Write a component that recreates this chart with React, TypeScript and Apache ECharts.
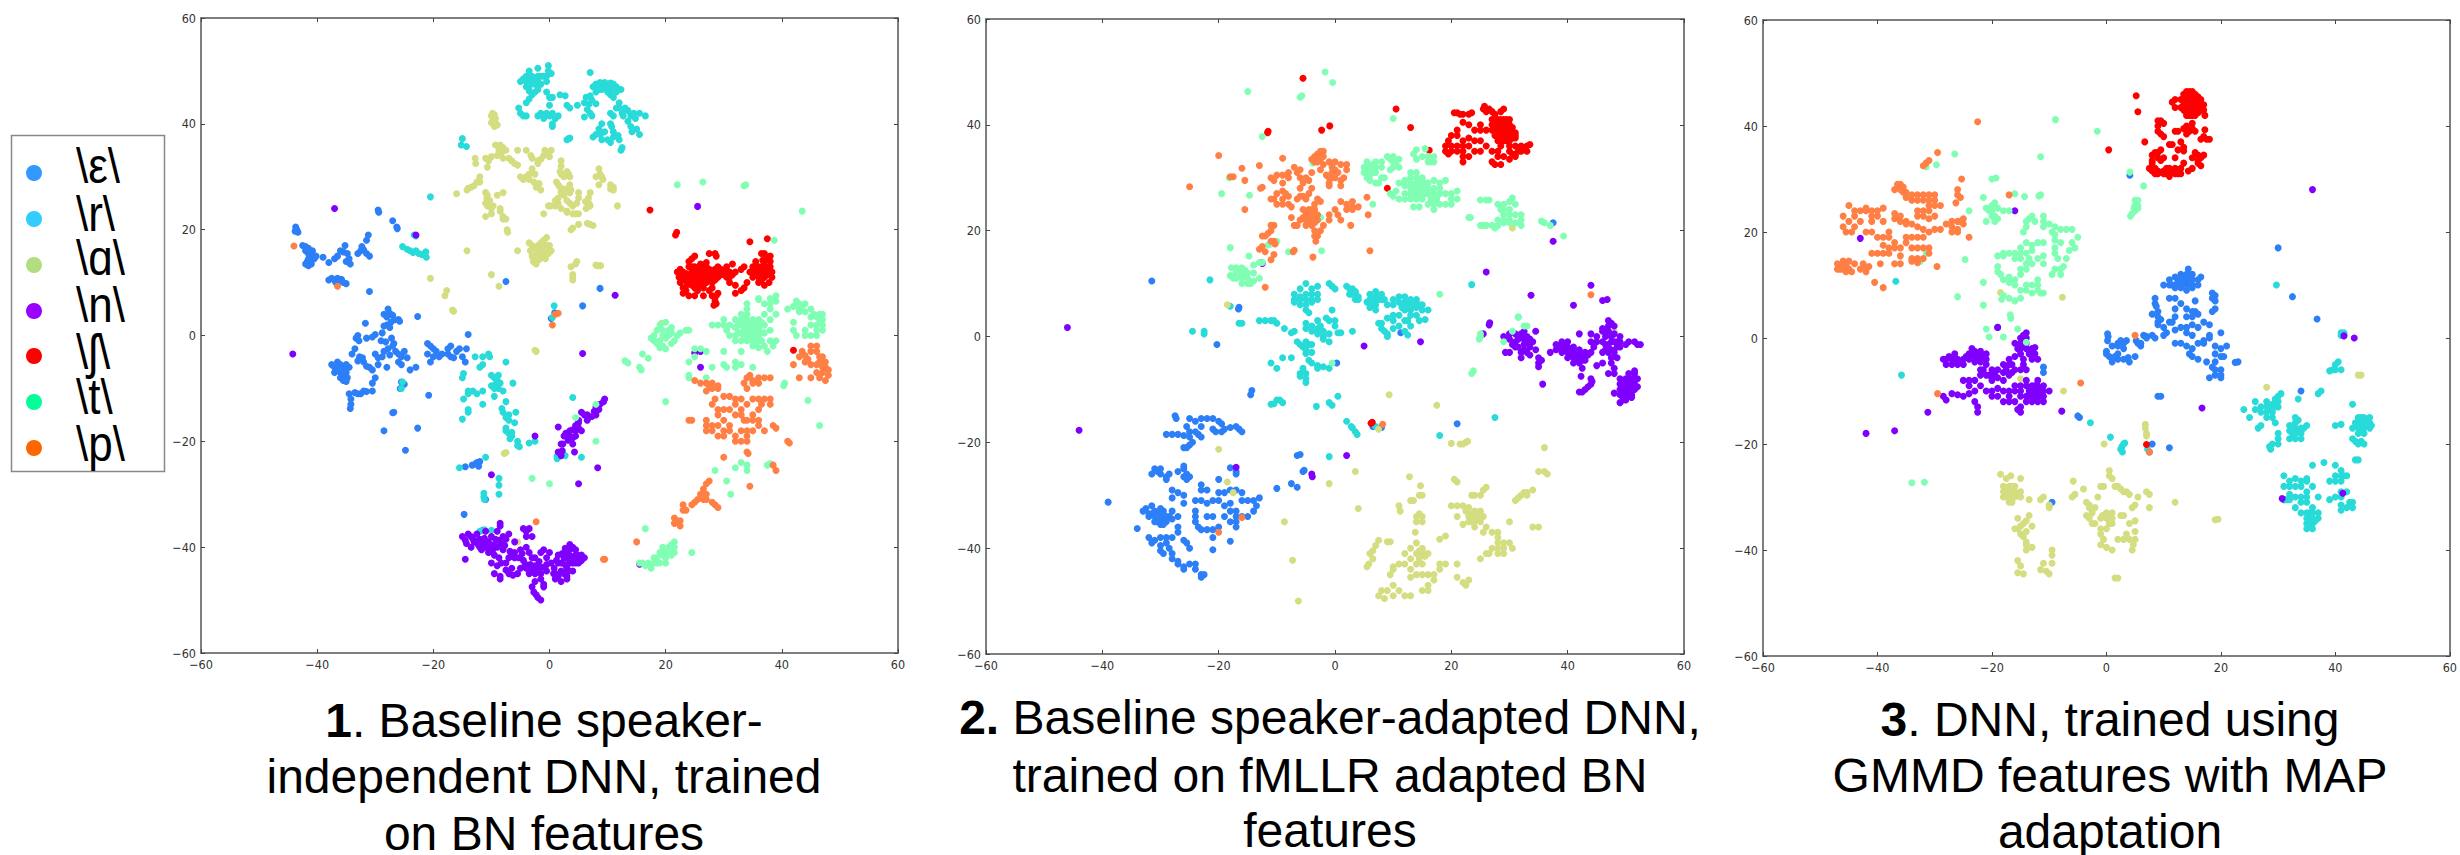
import React, { useEffect, useRef } from "react";
import * as echarts from "echarts";

const classNames = ["\\ε\\", "\\r\\", "\\ɑ\\", "\\n\\", "\\ʃ\\", "\\t\\", "\\p\\"];
const legendColors = ["#3399ff", "#33ccff", "#b2dd80", "#9900ff", "#ff0000", "#00ff99", "#ff6600"];
const markColors = ["#2c7ff7", "#28dbd9", "#d4dd80", "#7f00ff", "#ff0000", "#80ffb4", "#ff7f45"];
const tickValues = [-60, -40, -20, 0, 20, 40, 60];

const captions = [
  ["{b|1}. Baseline speaker-", "independent DNN, trained", "on BN features"],
  ["{b|2.} Baseline speaker-adapted DNN,", "trained on fMLLR adapted BN", "features"],
  ["{b|3}. DNN, trained using", "GMMD features with MAP", "adaptation"],
];

const p1Blue = [[-43.7,20.5],[-43.5,20],[-43.3,19.5],[-43.8,19.7],[-42.5,17],[-42,16.8],[-41.5,16.5],[-42,16],[-41.5,15.5],[-41.2,15],[-41.5,14.5],[-41.7,14],[-42,13.5],[-41.5,13.2],[-41,13.5],[-41,14.2],[-40.5,14.5],[-40.2,15],[-40.8,16],[-39,14.8],[-38,13.8],[-37,14.5],[-36.5,15],[-35.5,15.8],[-36,16],[-35.2,17],[-34.8,15.5],[-34.5,14.5],[-35,14],[-34.3,13.5],[-33,15.5],[-32.5,16],[-32,16.2],[-31.5,15.5],[-31,15],[-31.5,18],[-31.2,19],[-32.3,16.8],[-29.5,23.7],[-29.4,23.3],[-27,21.7],[-26.3,20.5],[-26.2,20.2],[-38,10.5],[-37.5,10.8],[-37,10.5],[-36.5,10.8],[-36.8,10],[-36,10.3],[-35.5,10],[-35,9.8],[-35.8,10.6],[-31,8.3],[-7.5,10.2],[8.7,8.9],[5.7,5.6],[0.3,3.2],[0.9,4.3],[-28.5,4],[-28,3.5],[-27.8,5],[-27.5,4.2],[-27,3.8],[-26.7,3],[-27.3,2.5],[-28,2],[-28.5,1.8],[-26,3],[-25.8,2.7],[-27.5,1.5],[-22.7,3.6],[-31.7,2.3],[-33,0],[-33.3,-0.5],[-32.8,-1],[-31.5,-0.5],[-30.5,-0.3],[-30,0.2],[-28.8,0.5],[-29,-1],[-28.2,-1.2],[-27.2,-0.5],[-26.8,-1.5],[-27,-2],[-27.8,-2.5],[-28.5,-3],[-27.5,-3.7],[-28.8,-4],[-29.5,-4.2],[-30,-3.5],[-26.5,-3],[-26,-3.5],[-25.5,-4],[-25,-3],[-26,-5],[-25.5,-5.5],[-24.5,-4.2],[-24,-6.5],[-23,-6],[-33.5,-2.5],[-34,-3.5],[-32.7,-4],[-32.2,-4.2],[-32,-5],[-33,-4.8],[-31.5,-5.8],[-31,-6],[-30.5,-6.5],[-29.5,-5.5],[-28,-6],[-37.5,-5.5],[-37,-6],[-36.5,-5],[-36,-5.5],[-35.5,-6],[-35,-5.5],[-36.5,-6.5],[-36,-7],[-35.5,-7.5],[-35,-7],[-36,-8],[-35.5,-8.5],[-34.8,-8],[-35.2,-6.5],[-37,-7],[-34.5,-6],[-35,-8.7],[-30.5,-9],[-32,-10.5],[-33.5,-10.8],[-33,-11],[-32.5,-11],[-31.5,-10.6],[-30.5,-10.5],[-34.5,-11],[-34.2,-12],[-34.2,-13],[-34.3,-13.8],[-30,-8],[-25.5,-8.8],[-25,-9.2],[-25.7,-10],[-26.8,-14.5],[-27,-14.6],[-20.8,-11.3],[-28.5,-18],[-22.7,-17.5],[-24.8,-21.7],[-21,-1.5],[-20.5,-2],[-20,-2.5],[-19.5,-3],[-21,-3.5],[-20,-4],[-19,-4],[-18.5,-3.5],[-17.5,-3.5],[-17,-4],[-17.5,-2.5],[-17,-2],[-16,-3],[-16.5,-4.2],[-15.5,-2.5],[-20.5,-5],[-15,-4],[-14.5,-5],[-14.3,-2.5],[-14,0.2],[-14.5,-24.8],[-13.3,-24.5],[-12.7,-24.3],[-12.2,-24.7],[-12,-23.8],[-12.5,-24],[-14.7,-33.8],[-11,-31],[-11.5,-36.8]];
const p1Cyan = [[-0.2,51],[-0.2,50],[-2,50.5],[-3.5,50],[-4,49],[-4.5,48.5],[-5,48],[-4,48],[-3.5,47],[-3,48],[-3,49],[-2.5,47.5],[-2,48],[-1.5,49],[-1,49],[-0.5,49],[0.3,49.5],[-2,46.5],[-3.5,46.2],[-0.5,48],[-4,47],[-3,45.5],[-2.5,46],[-0.5,46],[0,45],[-3.5,44.7],[-4,44],[0.5,45],[1.8,45.5],[2.7,45.3],[-5.3,43],[-5,42],[-4.5,41.5],[-4,41.5],[-2,41.5],[-1.5,42],[-1,41],[-0.5,42],[0,41.5],[0,43.5],[0.5,42],[1,41],[1.5,41.5],[0.5,40],[0.5,39.5],[3,43.5],[3.5,43],[4.8,43.5],[3,37],[3.3,37.2],[3.5,37.3],[7,49.7],[7.5,47],[8,47.5],[8.7,47.8],[9.5,47.8],[10,47.5],[10.5,47.7],[11,47.5],[11.5,47],[12,46.5],[8,46],[9,46.5],[10,46],[10.5,45.5],[11,45],[11.5,46],[12.3,46.5],[6,44],[6.3,45],[7,45.3],[7.3,44.5],[6.8,43.7],[6.5,42.7],[7,42],[6,41.3],[7.3,41.5],[8,43.8],[11.5,43],[12,44],[12,43],[10.5,42],[11,41.5],[12.5,42],[12.7,41.5],[13.5,42.5],[14,41.5],[14.5,42],[14.8,41],[15.5,42],[16.5,41.5],[13,43],[13.5,40.5],[14,39.5],[15,39],[14.2,38.5],[15.5,38],[10.5,40],[10.7,39.5],[11,38.5],[9,40],[8.5,39],[8.8,38],[8,38],[7.5,37.5],[9,37],[10,37],[10.5,36.5],[11,37.5],[9.5,38.5],[12,37],[12.5,35.5],[12.3,35],[11.8,37.8],[-15.2,36],[-15,37.2],[-14.3,35.7],[-20.5,26.2],[-25.3,16.8],[-24.5,16.3],[-24,16],[-23.5,15.7],[-23,16],[-22.5,15.5],[-22,15.3],[-21.5,15.5],[-21.2,14.8],[-21.3,15.8],[-23.3,19],[-23,18.8],[0.8,5.6],[0.5,3.4],[-12.8,-4],[-11.5,-4],[-10.5,-3.5],[-10.3,-4],[-11.5,-5.5],[-12,-6],[-7.5,-5],[-14.8,-7.2],[-15,-8],[-10,-7.5],[-9.5,-8],[-9,-8.5],[-9.3,-9.2],[-8.8,-10],[-9.5,-10],[-10,-9.5],[-8.5,-9],[-6.3,-9],[-8.8,-7.5],[-8,-10.5],[-14,-10.5],[-13.2,-10.5],[-12.5,-11],[-11.5,-10.5],[-14,-11],[-9.5,-11.5],[-7.5,-12.5],[-14.8,-12],[-11.5,-13],[-14,-14],[-14,-14.5],[-15,-15.8],[-8.2,-13.8],[-8,-14.5],[-7.5,-15.5],[-7,-15],[-7,-16],[-5.8,-14.5],[-6,-16.5],[-7.5,-18],[-7.5,-17.5],[-7,-18.5],[-6.5,-18.3],[-6.5,-19],[-6.8,-19.5],[-5.5,-20],[-5.5,-20.8],[-5.2,-21],[-3.5,-20.3],[-2.5,-20],[4,-11.7],[1.3,-23.3],[1.3,-22.8],[2.7,-22.7],[5.5,-23],[-25.3,-8.8],[-25.5,-10],[-8.7,-27],[-8.7,-28.3],[-8.7,-30],[-11.3,-29.8],[-11.3,-30.5],[-11.2,-31],[-10,-36.8],[-11.2,-36.7],[-11,-23],[-15.5,-25],[-12,-37],[-2.5,48.5],[-3.5,48.5],[-1.5,47.5],[-2,49],[9.5,47],[10.5,46.5],[9,47.3],[8.5,46.5]];
const p1Khaki = [[-10,41.5],[-9.8,42],[-9.5,41.7],[-9.7,41],[-9.5,40.5],[-10,40.2],[-9.3,40],[-9.5,39.5],[-9,39.8],[-9.3,41],[-9.3,36],[-8.5,36],[-8,35.5],[-8.7,35],[-8.3,34.5],[-9,34],[-10,33.8],[-7.5,35],[-8,33.5],[-7,33.5],[-6.5,33],[-6,32.5],[-5.5,32.2],[-10.5,33],[-11,33.5],[-12.8,33.5],[-12.7,32.5],[-10.7,31.8],[-5.5,35],[-4,35],[-3.2,34],[-3,33.5],[-1.5,33.3],[-2,33],[-0.8,35],[-0.2,34.5],[0,33.8],[-1,34],[0.3,35],[-2,32.5],[2,33],[2,32],[1.8,31],[2,30.5],[2.5,30],[3,31],[3.3,30.5],[3.5,30],[8.5,31.5],[8.7,30.5],[8,30],[9,30],[9.2,29.5],[-5,30],[-4.5,29.5],[-4,30],[-3.5,30.5],[-3,31.5],[-3.5,29.5],[-2.5,30.5],[-2.7,29],[-2.3,28],[-1.8,28.7],[-1.5,27.5],[1.2,29],[1.5,28.5],[1.8,28],[2.3,27.5],[2.7,27.7],[3.5,28.5],[2,27],[2.5,26.5],[3.5,27],[3.7,27.5],[3,25.5],[3.5,25],[4,24.5],[5,27],[5,26],[4.7,25],[6.7,26],[6.8,25],[6.3,24],[6.2,25.3],[7,24.5],[7,27],[8.5,28.5],[10.5,28.5],[10.5,27.7],[11,28],[11,27.5],[1.5,26],[1,24.5],[1.5,25],[1,25.5],[0.2,24.5],[-0.2,24.5],[2,24],[3,23.5],[3,23.3],[4,23],[4.5,23],[5,23],[-1,23],[11.7,24.5],[5,21],[6.5,21.2],[7,21],[7.5,20.8],[3.7,20],[4,20.3],[-14,27.8],[-13.5,28],[-13,28.3],[-12.5,29],[-12,30],[-12,29],[-14.2,27.5],[-11,27],[-10.7,26.5],[-10.8,26],[-10.3,25.5],[-11,25],[-10.7,24.5],[-10,24],[-10,23],[-9.7,24.5],[-9,26.5],[-8,27],[-8.5,24],[-8.5,23.5],[-8,22.5],[-8,22],[-7.5,22],[-7.3,20],[-7.2,19.5],[-11,22.5],[-16,26.8],[-3.5,17.5],[-3,17],[-2.5,16.5],[-3.3,16],[-2,17],[-1.5,17.5],[-1,18],[-0.5,18.5],[-0.5,17],[-0.8,16],[-1.5,16],[-2,15.5],[-1,15],[-1.5,14.7],[0,17],[0.3,16],[-0.2,15.5],[-0.7,14.5],[-3,15],[-2.8,14],[-2.5,13.7],[-2.3,13.5],[-5.5,16],[3.7,13],[4.5,13.5],[4.7,14],[4,11.5],[4,11],[4,10.5],[8,13.3],[8.3,13.2],[8.8,13.2],[-14.2,16],[-10,11.5],[-8.7,9.3],[-20.5,10.8],[-18,7.5],[-17.7,8.5],[-16.7,4.8],[-16.5,4.6],[-2.5,-2.8],[-2.3,-3],[-7.8,-22.3],[-7.5,-22.1],[-5.5,-39],[19.3,2.3],[-2.2,16],[-1.2,16.7],[-2.5,15],[-1.8,14.3],[-0.8,17],[-0.3,16]];
const p1Purple = [[-37,24],[-23,19],[-44.2,-3.5],[11.3,7.6],[25.5,24.4],[25,-3.3],[26,-6],[26,-3],[5.7,-3.4],[9.5,-12],[9.3,-12.5],[8.7,-13],[8,-13.5],[8.5,-14],[7.7,-14.3],[8,-15],[7.3,-15.3],[6.5,-15],[6,-15],[6.5,-16],[5.5,-14.5],[5,-16],[5,-16.5],[4.5,-17],[5,-17.5],[5.5,-18],[4.5,-18],[4,-17.8],[3.5,-18],[3.5,-19],[2.8,-18.5],[2.5,-19],[3.2,-19.8],[4,-19.3],[4.5,-19],[2.3,-20.5],[2,-20.5],[4,-20.5],[1.5,-17.3],[1.5,-22],[2,-22.7],[2.2,-21.8],[4.3,-22],[-2.5,-19],[8.3,-25],[5,-28],[-10,-26.3],[-14.5,-42.3],[15.5,-43.2],[-15,-38],[-14.5,-38.7],[-14,-37.5],[-13.5,-38],[-13,-39],[-13.5,-40],[-12.5,-37.5],[-12,-38.5],[-11.5,-39],[-12,-40],[-11,-40],[-10.5,-39],[-10,-38],[-11,-37],[-9.5,-39.5],[-9,-37],[-8.5,-35.5],[-8.5,-36],[-8,-38],[-7.5,-38.5],[-7,-37.5],[-9,-40],[-8,-40.5],[-9.5,-41.5],[-10.5,-41],[-10,-43],[-9,-43.5],[-9.5,-45],[-8.5,-45.5],[-8.5,-46],[-7,-45],[-6.5,-44],[-7.5,-43],[-7,-42],[-6,-42],[-6,-41],[-5,-40.5],[-4,-40],[-3.5,-41],[-3,-42],[-4.5,-42.5],[-5,-44],[-4,-44],[-3.5,-45],[-5.5,-45],[-4,-38],[-4,-37],[-3.5,-36.5],[-6,-39],[-3,-38],[-4.5,-36.5],[-2.5,-42],[-2.5,-43.5],[-2,-44],[-2.5,-45],[-1.5,-46],[-1.5,-45],[-2.5,-46.5],[-1,-47],[-3,-47.5],[-2.7,-48.5],[-2.3,-49],[-2,-49.5],[-1.5,-50],[-1,-47.5],[-0.5,-44.5],[-1.5,-41],[-1,-40.5],[-0.5,-42],[0,-41],[0.3,-43],[0.7,-45],[1,-46],[1.5,-45.5],[2,-46.5],[2,-44.5],[2.5,-45],[3,-44],[3,-46],[1.5,-41.5],[1.5,-43],[2,-43],[2.5,-42],[3,-42],[3,-41],[3.5,-40.5],[3.5,-39.5],[4,-40],[4.5,-40.5],[4.5,-41.5],[3.5,-43],[4,-43],[4.5,-43],[5,-42],[5,-43],[5.5,-41.5],[5.5,-42.5],[6,-42],[4,-44.5],[3,-45.5],[-14.3,-39.3],[-13.2,-38.4],[-12.7,-38.9],[-12.3,-39.5],[-11.7,-40.5],[-11.2,-38.3],[-10.4,-40],[-9.8,-40.6],[-9.3,-38.5],[-8.7,-38.7],[-8.3,-39.3],[-7.7,-39.7],[-6.8,-40.8],[-6.5,-41.7],[-8.7,-42],[-8.3,-43],[-7.5,-44.3],[-6.3,-45.3],[-4.7,-41.2],[-5.3,-42],[-4.2,-43.2],[-3.3,-43.3],[-3,-44.4],[-1.8,-42.7],[-1.3,-43.8],[-0.5,-43.3],[0.8,-44],[1.2,-42.5],[2.2,-41.2],[2.7,-43.3],[3.3,-44.5],[3.7,-41.7],[4.2,-42.2],[4.8,-41.5],[5.2,-42.7],[2.7,-40.2],[1,-45]];
const p1Red = [[17.3,23.7],[21.7,19],[21.9,19.5],[34.5,17.7],[37.5,18.3],[42,-2.8],[22,12],[22.3,11],[22.5,10],[23,9],[23,10.5],[23,12],[23.5,8.5],[24,10],[24,11],[24,13],[24,14],[24.5,14.5],[25,9],[25,10],[25,11],[25,12],[25,13],[25.5,8.5],[26,9.5],[26,10.5],[26,11.5],[26,12.5],[26,13.5],[27,10],[27,11],[27,12],[27,13],[27,13.8],[26.5,9],[28,10],[28,11],[28,12],[28,9],[28,7.5],[27.5,15.5],[28.5,15.5],[28.7,15],[29,11],[29,12],[29,13],[30,12],[30,11.5],[30.5,13],[31,12],[31,11],[31,10],[32,9.5],[32,12],[32,8],[31.5,13.5],[33,12.5],[33,8.5],[33.5,9],[33.5,13],[34,10],[34.5,12],[35,13],[35,11],[35.5,14],[36,13],[36,12],[36,11],[36,10],[36.5,11.5],[36.5,13],[36.5,15.5],[37,15.5],[37,14],[37,11],[37,9.5],[37.5,12.5],[37.5,11.5],[37.8,10],[38,13],[38,14],[38,15],[38.3,12],[38.3,11],[28.5,6.5],[28.7,6],[28.3,5.7],[29,8],[28.7,7.5],[23,8],[24,7.5],[25,7.5],[26.5,7.5],[27.5,8.5],[25,15],[22.5,12.5],[22.7,11.3],[23.3,11],[23.5,11.7],[23.7,9.6],[24.5,9.5],[24.5,10.5],[24.5,12],[24.6,13],[25.5,9.6],[25.5,10.8],[25.5,11.7],[25.5,12.7],[26.5,10],[26.5,11],[26.5,12],[26.5,13],[27.5,10.5],[27.5,11.5],[27.5,12.5],[28.5,10.5],[28.5,11.5],[28.5,12.5],[29.5,11.5],[29.5,12.5],[30.5,11],[31.5,11.5],[36.5,10.5],[37,12],[37.3,13],[36.7,14.2],[37.5,14.5],[36.2,11],[35.5,12]];
const p1Mint = [[22,28.5],[26.4,29],[33.5,28.3],[33.8,28.5],[43.5,23.5],[38.7,18],[19,2],[20,2.5],[20.5,1],[19.5,1],[18.5,1],[18,0],[17.5,-0.5],[18,-1],[18.5,-1.5],[19,-1],[19.5,0],[20,-0.5],[20.5,0],[21,0.5],[21,1.5],[21.5,-1],[22,0],[22.5,0.5],[23.5,1],[24,1],[19.5,-2],[20,-2.5],[19,-2.3],[21,-1.5],[16,-3.5],[17,-4.3],[13,-4.8],[13.5,-5.2],[15.5,-6],[15.8,-6.5],[28,2],[29,2],[30,2],[30.5,1],[30,3],[31,2],[31,0],[32,3],[32,1.5],[32,0],[33,4],[33,3],[33,2],[33,0.5],[33,-1],[34,5],[34,4],[34,3],[34,2],[34,1],[34,0],[34,-1],[35,3],[35,2],[35,1],[35,0],[35,-1],[35,-2],[36,3],[36,1.5],[36,0],[36,-1],[36,-2.3],[37,6],[37,4],[37,2],[37,0.5],[37,-2],[37.5,-3],[38,7],[38,6],[38,5],[38,3],[38,1],[38,-1],[38.5,-2],[39,7.5],[39,6.5],[39,4],[39,-1],[36,7],[36,6.8],[34,6],[32,-1],[33,-3],[30,-3],[30,-5.5],[30.5,-6],[32,-6],[33,-5.5],[35,-6],[32,-5],[41,5],[42,5.5],[42.5,6.5],[43,6],[43.5,5.5],[44,6],[43,5],[43,4.5],[44,4.5],[45,3.5],[45,5],[45.5,4],[46,3.5],[46.5,4],[46.5,3],[47,3],[47,2],[47,1],[46,2],[46,1],[45,2],[44,1],[44,0],[45,0],[46,0],[42,2.5],[42,1],[42.5,0],[47,4],[24,-5],[25,-4],[26,-2.5],[25,-2.5],[27,-3],[28,-6],[27,-8],[24,-7.5],[24,-8],[20,-12.5],[40.5,-9],[40.3,-9.5],[44.5,-12.3],[46.5,-17],[32,-25],[33,-24],[34,-24.5],[34,-25.5],[28.5,-25.5],[30.5,-27.5],[31.2,-30],[37.5,-24.5],[38,-24.2],[-3,-27],[0,-28],[8,-13],[4.5,-15.5],[8,-20],[16.5,-36.5],[15.5,-43],[16,-43],[16.5,-43.5],[17,-43],[17.5,-44],[18,-43],[18,-42],[18.5,-42],[18.5,-43],[19,-41],[19,-43],[19.5,-41.5],[19.5,-40],[20,-42],[20,-41],[20,-43],[20.5,-40],[21,-39.5],[21,-40.5],[21,-41.5],[21.5,-39],[21.5,-40],[21.5,-41],[24.5,-41],[33.5,1.5],[33.5,2.5],[33.5,3.5],[34.5,1.5],[34.5,2.5],[34.5,0.5],[34.5,-0.5],[35.5,0.5],[35.5,1.5],[35.5,2.5],[35.5,-0.5],[35.5,-1.5],[36.5,0.5],[36.5,-1],[36.5,2.5],[33.5,-0.3],[32.5,0.5],[32.5,2]];
const p1Orange = [[-44,16.9],[-36.5,9.3],[1,4],[1.5,4.2],[0.5,2],[-2.3,-35.2],[9.3,-42.3],[9.5,-42.3],[15,-39],[42,-5.5],[43,-4],[43.5,-3],[44,-3.8],[44.5,-4.5],[45,-3],[45,-2],[46,-2],[46,-3],[46.5,-4],[46.5,-5],[47,-4],[47.5,-5],[46,-5.5],[45,-5.5],[44,-5],[47,-6],[47.5,-6],[48,-6.5],[48,-7.5],[47,-7],[46,-7],[47.5,-8.5],[46.5,-8],[43,-8],[45,-8],[25,-8.5],[26,-9],[27,-9],[27.5,-9.5],[28,-9],[28,-10],[29,-9.5],[29,-10],[27,-10.5],[34,-8],[34.5,-7.5],[35,-8.5],[35,-9],[36,-8],[36,-9],[37,-8],[38,-8],[33.5,-9],[34,-10],[28.5,-12],[28,-13],[30,-11.5],[31,-11.5],[32,-12],[32,-13],[33,-12],[35,-12],[36,-12],[37,-12],[38,-12],[38,-13],[34,-13],[36.5,-13],[36,-14],[33,-14],[29,-14],[29,-15],[30,-14],[31,-14],[32,-15],[33,-15],[30,-16],[29,-17],[28,-17],[27,-16],[27,-17],[27,-18],[28,-18],[29,-19],[30,-18],[31,-18],[30,-19],[32,-19],[32,-20],[33,-18],[33,-20],[34,-19],[34,-18],[34,-20],[33.5,-16],[34,-16],[35,-15],[35,-16],[36,-16],[36,-17],[35,-18],[31,-17],[37,-18],[38.5,-17],[39,-17.5],[24,-16],[24.5,-16],[41,-20],[41.3,-20.3],[34,-22],[34.2,-22.3],[30,-23],[38.5,-24.5],[39,-25.5],[34.5,-28.5],[27.5,-27.5],[27,-28],[26.5,-29],[26,-30],[26.5,-31],[25.5,-31],[25,-31.5],[27,-30],[27,-31],[28,-31.5],[28.5,-32],[29,-32.5],[24.5,-32],[23.5,-33],[23,-32],[23,-33],[21.5,-34.5],[22,-35],[22.5,-35],[21.5,-35.5],[22.5,-36]];

const p2Blue = [[-31.5,10.5],[-16.5,5.5],[-16.6,5.2],[-20.3,-1.5],[-14.3,-10.2],[-14.5,-11],[0.3,-5],[11.3,0.7],[37.5,21.5],[21,-16.5],[8,-17.2],[6.5,-17],[-39,-31.3],[-6.5,-22.5],[-6,-22.3],[-5.5,-25.5],[-5.3,-25.3],[-10,-28.7],[-7.5,-27.8],[-6.5,-28.5],[-18,-38.7],[-21,-40.3],[-27.5,-15],[-27.3,-15.5],[-25,-15.5],[-24,-16],[-23,-15.5],[-22,-15.5],[-21,-15.5],[-20,-16],[-19.5,-16.5],[-19,-17.5],[-18,-17.2],[-17,-17],[-16.5,-17.5],[-16,-18],[-25.5,-17],[-25,-18],[-23,-17],[-21,-17.5],[-20.5,-18],[-19.5,-18],[-29,-18.5],[-28,-18.5],[-27,-18.5],[-26,-18.7],[-25,-19],[-24,-18],[-23.5,-18.5],[-23,-19],[-24.5,-20],[-25,-20.5],[-25.5,-21],[-26,-21],[-31,-25],[-30.5,-25.5],[-30,-25],[-30,-26],[-31.5,-26],[-29,-26.5],[-29,-27],[-28.5,-26],[-27,-25.5],[-26,-25],[-26,-24.5],[-25.5,-26],[-26,-26.5],[-25,-26.5],[-25.5,-27],[-20,-27],[-18,-24.8],[-17,-25.5],[-17,-26],[-23,-28],[-22,-29],[-23,-29],[-18,-29],[-17,-29],[-16,-29.5],[-16,-31],[-15,-31],[-14,-31],[-13,-30.5],[-13.5,-32],[-14,-33],[-28,-29],[-27,-29.5],[-28,-30.5],[-26,-30],[-26,-31.5],[-24,-31],[-23,-31],[-22,-31.5],[-21,-31],[-20,-31],[-20,-29.5],[-19,-29.5],[-19,-32],[-18,-31.5],[-18,-33],[-17,-33],[-17,-34],[-19,-34],[-18,-35],[-16,-34],[-17,-35],[-17,-36],[-15,-34],[-33,-33],[-32.5,-32.5],[-32,-33.5],[-32,-34],[-31.5,-32],[-31,-33],[-31,-34],[-31,-35],[-30.5,-33.5],[-30,-32.5],[-30,-34],[-30,-35],[-30,-35.5],[-29.5,-33],[-29,-34],[-29,-35],[-28.5,-34],[-28,-34.5],[-28,-33],[-27,-34],[-32,-38],[-31,-38.5],[-30,-38],[-31.5,-39],[-30,-39.5],[-30,-40.5],[-29.5,-41],[-29,-39],[-28.5,-40],[-29,-38],[-34,-36.3],[-28,-38],[-27,-37],[-27,-36],[-26,-38.5],[-25.5,-39],[-25,-40],[-24,-34],[-24,-35],[-23.5,-36],[-23,-36.5],[-22,-36.5],[-21,-36.5],[-24,-33],[-22,-34],[-21,-34],[-20,-36],[-21,-38],[-28,-41],[-28,-42],[-27,-43],[-27,-42.5],[-26,-43.5],[-26,-44],[-25,-43],[-24,-43],[-24,-44],[-23,-45],[-23,-45.5],[-22.5,-45],[-30.5,-34],[-29.5,-34.5],[-30.5,-35],[-31.5,-33.5],[-29.5,-35.5]];
const p2Cyan = [[-21.5,10.7],[-18,5.7],[-24.5,1],[-22.5,1],[-22.5,0.5],[-16.5,2.5],[-16,2.5],[23.5,9.8],[27.5,-15.3],[18,-18.7],[31.5,3.7],[-7,8],[-6,9],[-5,10],[-4,9],[-3,9.5],[-3,8],[-4,8],[-5,8],[-6,7.5],[-7,7],[-6,7],[-5,7],[-4,7],[-3,7],[-5,6],[-4,6.5],[-5,5],[-6,6],[-7,6.5],[-4.5,4.5],[-1,10],[-0.5,9.5],[0,9],[2,9.5],[2.5,9],[3,9],[3.5,8.5],[3,8],[3.5,8],[4,7.5],[4,7],[3.5,7],[2.5,8],[6,8],[7,8.5],[7,7.5],[6,7],[5.5,6.5],[6.5,6],[7,7],[7.5,7],[8,8],[8,7],[8.5,7],[7,6],[6,5.5],[7,5],[9,6],[10,7],[10,6],[11,7.5],[11,6.5],[11.5,5.5],[12,7.5],[12,6.5],[12,5],[12.5,6],[13,7],[13,5],[13.5,6],[14,7],[14,5.5],[14.5,6],[15,6],[15,5],[14,4],[16,5],[15.5,3.2],[14.5,3],[13,4],[12.5,3],[12,1],[13,2],[12,3],[11,4],[10,4],[9,3.5],[8,2.5],[7.5,2.5],[8,1.5],[8.5,1],[9,0.5],[9,0],[10,3],[10,1.5],[11,2],[12.5,0.3],[-13,3],[-12,3],[-11,3],[-10.5,3],[-10,2.5],[-8.7,1.5],[-7.5,0.7],[-7,1],[-5,2.5],[-5,1.5],[-4,2],[-4,1],[-3,3],[-3,1.5],[-3,0.5],[-2.5,2],[-2,1],[-1.5,3.5],[-2,0],[-1,0.5],[-1,3],[-0.5,5],[0,3],[0,2],[0.5,0.7],[1,0.7],[3,1],[-2,-0.5],[-1,-1],[-6.5,-1],[-6,-1.5],[-5,-1],[-5.5,-2],[-5,-2.5],[-4.5,-1.5],[-4,-1.5],[-4,-3],[-5,-3.2],[-4.5,-4.5],[-4,-5],[-3,-5.5],[-3,-6],[-5.5,-6],[-6,-7],[-5,-7],[-6,-7.5],[-5,-8],[-5,-8.7],[-1,-6],[-2,-5.7],[-11,-5],[-10,-6],[-9,-4],[-7.5,-4],[-11,-12.8],[-10.5,-12.7],[-10,-12],[-9.5,-12],[-9,-12.5],[-3.2,-13.2],[-1,-12.5],[-0.5,-13],[0.5,-11.3],[2,-16],[2.8,-17],[3,-17.3],[3.5,-18],[3.8,-18.5],[7,-17],[-1,-22.7]];
const p2Khaki = [[-18.5,6],[-17.5,-29.5],[-18.5,-27.5],[-20,-21.3],[3.5,-25.5],[-1,-27.8],[4,-32.5],[-8.7,-35],[-7.3,-42.3],[-6.3,-50],[9.3,-11],[17.5,-13],[7.5,-17.5],[30.5,20.5],[48,1],[20,-20.2],[21.5,-20.3],[22,-20.3],[22.5,-20],[22.8,-19.8],[36,-21],[36,-25.5],[36.5,-26],[35,-25.5],[12.8,-26.5],[14.7,-28.2],[15,-30],[14.5,-30],[13.5,-31],[13,-31],[11,-32],[11.2,-33],[14.5,-33.5],[15,-34],[15,-35],[14,-34],[14,-35],[13.8,-37],[20.5,-27],[21,-27.5],[23.5,-30],[24,-30],[25,-30],[25.5,-29],[26,-28.5],[31,-31],[31.5,-30.5],[32,-30],[33,-29.5],[34,-29],[32.5,-29.5],[33,-30],[23,-34],[24,-33],[24,-34],[24,-35],[23,-35],[22.5,-33],[22,-35.5],[21,-34],[21,-32],[20,-32],[22,-32],[23,-32.3],[25,-33],[25.5,-34],[25,-35],[24,-36],[25.5,-37],[26,-36],[27,-37],[28,-37],[35,-36],[34,-36],[30,-35],[28,-38],[28,-39],[28,-40],[29,-40],[29,-39],[30,-39],[29,-41],[28,-41],[27,-40],[26.5,-41],[26,-41],[25,-42],[30.5,-40],[19,-37.7],[18,-38.3],[7.5,-38.5],[7,-39.5],[6.5,-40.5],[9,-38.8],[9.5,-38.8],[6,-41],[6.5,-42],[5.8,-43],[5.5,-43.5],[13,-40],[14,-39],[15,-40],[14,-41],[14.5,-42],[15,-41],[16,-41],[14,-43],[13,-42],[12,-41],[12,-43],[11,-43],[10,-43.5],[10,-44],[9.5,-45],[13,-44],[15,-43],[14,-45],[13,-45.5],[15,-45],[16,-45],[17,-45],[18,-44],[18,-43],[17,-46],[16,-47],[15,-48],[16,-48],[10,-47],[9,-48],[8,-48],[7.5,-49],[8.5,-49.5],[10,-49],[11,-48],[12,-49],[13,-49],[19,-43],[21,-43],[21,-45.5],[22,-46.5],[23,-46],[22.5,-47],[14.5,-41.5],[15,-40.5],[14.5,-40.5],[15.5,-41.5],[24,-34.5],[23.5,-33.5],[24.5,-34],[23.5,-35]];
const p2Purple = [[-46,1.7],[-44,-17.7],[-12.7,14],[-12.5,13.8],[26,12.2],[44,9.7],[46,6.8],[46.8,7],[41,5.9],[33.7,7.8],[37.5,18],[5,-1.8],[14.7,-1],[2,-22.5],[-17,-24.7],[-3.9,-26.5],[-4,-26],[35.7,-9],[25.5,0.5],[26.5,2.2],[26.6,2.6],[29,0],[30,0.5],[30,-0.5],[31,0.5],[31,-1],[30.5,-1.5],[29.3,-3],[30,-3],[31,-2],[31.5,-2],[32,0.5],[32.5,1],[33,0],[33,-1],[33.5,-2],[33,-3],[33.5,-3.5],[32,-3],[32,-4],[34,-1],[34.5,-2.5],[34.5,1],[35,-4],[35,-5],[35,-5.7],[35.5,-4.5],[37,-3],[38,-1.5],[38,-2.5],[39,-1],[39,-2],[39,-3],[40,-1],[40,-2],[40,-3],[40,-4],[41,-2],[41,-3],[41,-4],[41,-5],[42,-2.5],[42,-4],[42,-5],[42.5,-6],[42,0.5],[43,-3],[43,-4.5],[44,-1],[44,-3],[44,0.5],[44.5,-2],[45,-1],[45,0],[45,-5.5],[46,-1],[46,-3],[46,1],[46,1.5],[46.5,0],[47,1],[47,2],[47,3],[47,-1.5],[47,-3],[47.5,2.5],[47.5,-4],[48,2],[48,0.5],[48,-1],[48,-3],[48.5,-4],[49,0],[49,-1],[49,-2],[50,-1.5],[50.5,-1],[51.5,-1],[52,-1.5],[52.5,-1.5],[47.5,-5],[48,-6],[47,-7],[48,-7],[46,-5],[42,-10.5],[42.5,-10.5],[43,-10],[43.5,-9.5],[44,-9],[44,-8],[44.2,-8.5],[42.3,-7.5],[48,-10.7],[49,-8],[49,-9],[49,-10],[49,-11],[49.5,-12],[50,-8],[50,-9],[50,-10],[50,-11],[51,-8],[51,-9],[51,-10],[51,-11],[52,-8],[52,-9.5],[51.5,-6.5],[51.5,-7],[49,-12.5],[50,-12],[51,-11.5],[50.5,-7],[38.5,-2],[39.5,-2.5],[39.5,-1.5],[40.5,-2.5],[40.5,-3.5],[41.5,-3.5],[41.5,-4.5],[42.5,-3.5],[42.5,-4.5],[43.5,-3.5],[47.5,0],[47.5,-1],[46.5,-1.5],[46.5,-2.5],[48.5,-1],[48.5,-2],[47.5,-2.5],[49.5,-9],[49.5,-10],[50.5,-9],[50.5,-10],[51.5,-9],[51.5,-10],[49.5,-11],[50.5,-11],[32.5,-1.5],[31.5,-0.5],[32.5,-0.5],[33.5,-0.5],[32.5,-2.5]];
const p2Red = [[-5.5,48.8],[10.5,43],[13,39.5],[-11.5,38.8],[-11.6,38.5],[-2.3,39],[-0.9,39.8],[16.2,35.2],[9,28],[6.2,-16.4],[6.4,-16.2],[20.5,42.3],[21,42.3],[21.5,42],[22,42],[23,42],[23.5,42.3],[25.5,43],[25.7,43.5],[26,42.5],[26.5,43],[27,42.5],[27.5,42],[28,41],[28.5,42.5],[29,43],[28,40],[29,41],[29,40],[28,39],[29,39],[30,41],[30,40],[30,39],[27,40],[27,39],[28,38],[29,38],[30,38],[31,38.5],[31,37.5],[29,37],[30,37],[28,37],[27.5,38],[27,41],[28.5,36],[30,36],[31,36],[32,36],[33,36],[33.5,36.3],[32,35],[33,35],[30,35],[31,34.5],[29,34],[28,35],[28,34],[27,33],[27.5,32.5],[28.5,32.5],[30,33.5],[31,34],[26,36],[27,35],[26,39],[25,39],[25,40],[24,39],[23,40],[22,40.5],[21,39],[21,38],[20,38],[19.5,37],[19,36],[19,35],[19.5,34.5],[20,36],[20,35],[21,36],[21,35],[22,37],[22,36],[22,35],[23,36],[23,37.5],[23,34],[22,34],[22,33],[24,35],[25,35],[25,37],[24,37],[31,38],[28.5,40],[28.5,39],[29.5,40],[29.5,39],[28.5,38],[29.5,38],[30.5,38.5],[28.5,41],[29.5,41],[27.5,39.5],[27.5,40.5],[29.5,37],[30.5,37.5],[30.5,39.5],[28.5,37],[28.5,37.5],[32.5,35.3],[31.5,35],[30.5,34.5]];
const p2Mint = [[-1.7,50],[-0.4,48],[-6,45.2],[-5.7,45.5],[-15,46.3],[10,41.2],[-12.5,37.8],[-18.2,30],[-19.5,27],[-14.7,26.7],[6.5,25],[-3.8,32.8],[5.5,33],[6,32],[6.5,32.5],[7,33],[8,33],[8,32],[5.5,31],[6,30.5],[6.5,31],[7,31],[5,32],[5,31],[5.5,30],[6,29.5],[7,29],[7.5,29],[8,30],[8.5,30],[9,34],[9.5,33.5],[10,34],[10.5,33],[11,33.5],[10,33],[10,32],[11,32],[9.5,31.5],[13.5,34.5],[14,33.5],[14,35.3],[15.5,35.5],[16,34],[16.5,33],[17,34],[16,33],[17,33],[15,34],[13,31],[14,31],[13,30],[12,29.5],[11,29],[12,28.5],[13,29],[14,30],[15,30],[15,29],[14,29],[13,28],[14,28],[15,28],[16,28],[16,29],[17,29.5],[18,29],[19,29.5],[17,28],[18,28],[12,27],[13,27],[14,27],[15,27],[16,27],[17,27],[18,27],[19,27],[20,27],[21,27.5],[11,26],[12,26],[13,26],[14,26],[15,26],[16,25],[17,25],[18,25],[19,25],[20,25],[20,26],[21,26],[10,26.5],[10.5,27.5],[14.5,24.5],[13.5,24.5],[17,24],[9.5,27],[25,25.8],[26,25.8],[26.5,25.8],[23,22.5],[23.3,22.5],[25,21],[25.5,21],[26,21],[27,21],[27.5,20.5],[28,21],[28,22],[29,21.5],[29,22],[29,23],[29,24],[28.5,24],[28,25],[29,25],[30,24],[30,23],[30,25.5],[30.5,26.2],[31,25],[31,23],[32,23],[32,22],[32,21],[31,21.5],[30,22],[30,21.5],[36,21.5],[35.5,21.8],[37,21],[39.3,19],[-14.8,15.2],[-18,16.8],[-17.8,13],[-17,13],[-17,12],[-18,11.5],[-17.5,11],[-17,11],[-16,12],[-16,13],[-16,11],[-16,10],[-15,12],[-15,11],[-15,10],[-14.5,10],[-14,10.5],[-14,12],[-13,11],[-14,13.5],[-13,14],[-12.5,14],[-11,17.5],[-11.5,17.3],[-10,18],[-8,16],[-2.5,22.5],[-2.3,16.2],[18,8],[31.5,3.7],[32.5,2],[33,2],[30.5,1],[25,0.5],[25,0],[24.8,-0.5],[29,-1],[23.5,-7],[23.8,-6.5],[-0.5,-5],[14.5,28],[15.5,28],[14.5,27],[15.5,27],[13.5,28],[13.5,27],[14.5,29],[16.5,27.5],[15.5,29],[16.5,26],[17.5,26],[-16.5,11.5],[-15.5,11.5],[-16.5,12.5],[-15.5,12.5],[6,31.5],[7,32],[5.5,32]];
const p2Orange = [[-20,34.2],[-25,28.3],[-16,31.8],[-13,32.3],[-18,30.2],[-17.5,30.2],[-15.5,29.5],[-12.8,28],[-12.5,28.2],[-15.5,24],[-9,33.7],[-11,30],[-10,30.5],[-9,30.5],[-9,29],[-8,31],[-8,30],[-10.5,29.5],[-10,27],[-9,27.5],[-8.5,27],[-10.5,26],[-9,26],[-10,25],[-9,25],[-8,25],[-11,26],[-8,26.5],[-7.5,24.5],[-7,32],[-6.5,31],[-6,31.5],[-6,30],[-5.5,29],[-5,30],[-4.5,29.5],[-6,28],[-6,26.5],[-6.5,26],[-5.5,26.5],[-5,26],[-4.5,27],[-4,28],[-4,31],[-4,33.5],[-3.5,34],[-3.5,33],[-3,34.5],[-3,33],[-2.5,35],[-2.5,33.5],[-2,35],[-2,34],[-2,32.5],[-2.5,31.5],[-1,33],[-0.5,32],[-0.5,31],[0,33],[0,31.5],[1,32.5],[2,32.5],[2,31.5],[-1.5,30.5],[-1,30],[-0.5,30],[0,30],[0.5,31],[1,29.5],[1.5,30],[-1,29],[-1,28.5],[1,28.5],[-3.5,25],[-2.5,25.5],[-3,26],[1,25.5],[2,25],[3,24.5],[3,25.5],[4,24.5],[3,24],[2,24],[5.5,26.3],[5.7,23],[2.7,21],[1,22],[0.5,23],[-1,23],[-1,22],[0,24],[-5.5,24],[-5,23],[-4.5,24],[-4,24],[-3.5,24],[-3.5,23],[-4,22.5],[-4.5,22],[-5,22],[-3,23],[-3.5,21.5],[-4,21],[-3,22],[-5,21],[-6,22],[-6.5,21],[-7,21],[-7.5,22.5],[-3.5,20],[-3.5,19],[-3.3,18],[-2.5,20],[-3,19],[-2,21],[-11,21],[-10.5,21],[-11,20],[-11.5,19.5],[-12,19],[-12.5,19],[-11,18],[-10.5,18],[-10.3,17.5],[-12.5,17],[-13,16.5],[-12,16],[-10.5,15.5],[-7.2,16],[-7,16.3],[-3.8,15],[-11,14.5],[6,16.2],[-12,9.3],[44,7.9],[-16,-34.2],[-20,-37],[8.2,-16.6],[-4.5,23],[-4,23.5],[-3.8,22],[-5.5,22.5]];

const p3Blue = [[4.1,30.7],[30,17],[32.5,7.8],[36.8,3.6],[-19,2],[-14.5,-1],[34,-10],[9,-11],[9.5,-11],[-5,-14.7],[-4.7,-15],[11,-20.7],[8,-20],[-9.5,-31],[7.5,-21.5],[41.5,0.5],[31,-30.5],[10,10],[11,10],[11,11],[11.5,10],[12,11.5],[12,10],[12,9.5],[13,12],[13,11],[13,10],[13,9.5],[14,12],[14,11],[14,10],[15,11],[15,10],[15,12],[15,9.5],[16,11],[16,10],[14.3,13],[16.5,11.5],[14,9],[18.5,8.5],[19,8],[18.5,7.5],[19,7],[19,5.5],[18.5,5],[8.5,7.5],[8.5,6.5],[8.7,6],[11,7.5],[12,7.5],[13,6.5],[15.5,7],[14,5.5],[15,5],[15.5,5],[16,4.5],[12,5.5],[9,5],[8,4.5],[9,4],[9,3],[9,2.5],[9.5,3.5],[10,2],[11,3],[12,4],[11.5,3],[14,4],[15,4],[13,2],[14,2],[15,2.5],[16,2],[17,3],[18,2.5],[10,0.5],[8,0.5],[7,0.3],[6.5,0.5],[12,1.5],[10.5,1],[15,0.5],[17,-0.5],[18,0.5],[14,1],[12,-1],[13,-1],[14,-1.5],[15,-2],[16,-1],[17,-1],[18,0],[20,1],[19,-1.5],[20,-2],[21,-1.5],[19,-3],[20,-3.5],[20.5,-3.5],[23,-4.5],[22.5,-4.6],[15,-3.5],[14.5,-3],[16,-4],[17.5,-4.5],[19,-4.5],[18.5,-5.5],[19,-6],[20,-6],[20,-7],[19,-7],[18,-7.5],[20,-7.5],[0.2,0.8],[0.3,0.3],[0.2,-0.5],[0,-2.5],[1,-1.5],[2,-1],[2.5,-0.5],[3,-1],[3.5,-0.5],[3,-2],[2,-1.5],[0,-3],[0.5,-3.5],[1.5,-3.5],[2,-3],[2,-4],[1,-4.5],[3,-4],[3.8,-3.7],[4,-4.5],[5,-3.5],[5.2,-0.5],[5.5,-1],[6,-1.5],[6,-1],[7,0],[8.5,0],[-11,-5.5],[-11,-6.5],[13.5,10.5],[14.5,10.5],[12.5,10.5],[13.5,11.5],[14.5,11.5],[12.5,11]];
const p3Cyan = [[-36.8,10.7],[-35.8,-7],[29.7,10],[41,1],[41.5,1],[41,0.5],[40,-5],[40.5,-4.5],[39.5,-6],[40,-6],[41,-6],[39,-6.2],[37,-10.5],[37.5,-10],[0.7,-18.7],[2.5,-21],[2.7,-20.5],[3,-20],[3.2,-19.8],[2.8,-21.5],[-2.8,-16],[7.2,-21],[24,-13.5],[25,-15],[26,-13.5],[26,-12],[27,-13],[27,-14],[27,-16.5],[26.5,-17],[28,-12],[28,-13],[28,-14],[28,-15],[29,-12.5],[29,-14],[29,-15],[29.5,-11.5],[30,-13],[30,-12],[30,-11],[30.5,-10.5],[29.5,-16],[32,-16.5],[32,-17.5],[32.5,-18],[33,-16],[33,-17],[33,-18],[33.5,-15.5],[34,-17],[34,-18],[34.5,-17],[35,-16.5],[34,-19],[30,-18],[30,-19],[30,-20],[29,-20],[28.5,-20.5],[28.7,-21],[32,-19],[33,-19],[33,-15],[33.5,-11.5],[40,-16.5],[41,-16.3],[43,-12.5],[44,-15],[44,-16],[44,-17],[44,-18],[44.5,-15],[45,-15],[45,-16],[45,-17],[45,-18],[46,-15],[46,-16],[46,-17],[46.3,-16.5],[43,-17],[43.5,-16],[43,-19],[43.5,-19.5],[44,-20],[45,-20],[44.5,-19.5],[43.5,-23],[44,-23],[31,-26],[31,-28],[32,-27],[32,-28],[33,-26.5],[33,-28],[34,-27],[34,-28],[35,-27],[35,-26.5],[36,-28],[35,-29],[35,-30],[32,-29.5],[33,-30],[34,-30],[34,-31],[35,-31],[33,-32],[34,-33],[35,-33],[35,-34],[35,-35],[36,-32],[36,-33],[36,-34],[36,-35],[36,-36],[35,-36],[37,-33],[37,-34],[37,-30],[36,-24],[38,-23.5],[40,-24],[40,-26],[41,-26],[41,-25],[41.5,-26],[42,-26],[39,-27],[40,-27],[41,-27],[39,-30.5],[40,-30],[41,-30],[41,-29],[42,-29],[41,-31.5],[41,-32.5],[42,-32],[43,-31],[43,-32],[42.5,-31],[31.5,-30.5],[32,-30.5],[35.5,-34],[35.5,-35],[36.5,-34.5],[35.5,-33],[28.5,-13.5],[29.5,-13],[45.5,-16],[44.5,-16.5],[44.5,-17.5],[33.5,-17.5]];
const p3Khaki = [[-18.5,8.6],[-7.7,7.7],[-15,-7.7],[-7.5,-10],[28,-9.3],[44,-7],[44.5,-7],[6.8,-16.3],[6.8,-17],[7,-18],[7,-18.5],[-0.4,-20],[-18.5,-25.7],[-17.5,-26.5],[-16.7,-26],[-15,-26.5],[-18,-28],[-18,-29],[-18,-30],[-17,-28],[-17,-29],[-17,-30],[-16,-28],[-16,-29],[-16,-30],[-15,-29],[-15,-30],[-17,-31],[-16.5,-31],[-13.5,-30.5],[-11.5,-30.5],[-11,-30],[-10,-31.5],[-10,-32],[-15.5,-34],[-13.5,-33.5],[-14,-34.5],[-14.5,-35],[-15,-35.5],[-16,-36],[-15.5,-36],[-13,-35.5],[-14,-36.5],[-14.5,-37.5],[-15,-37],[-14,-38.5],[-14,-39],[-14,-40],[-13,-39.5],[-15.5,-42],[-15,-43],[-15.5,-44.3],[-14.5,-44.5],[-11.5,-43.7],[-11,-42.5],[-10.5,-44],[-10,-44.5],[-9.5,-42.5],[-9.5,-41],[-9.5,-40],[-6,-30],[-5.5,-29.5],[-5.8,-27],[-4,-28.5],[-3.5,-31],[-3,-32],[-3,-31.5],[-3.5,-33.5],[-3,-34],[-2.5,-33],[-2,-32],[-1.5,-30],[-1,-28],[-0.5,-28],[0.5,-25],[0.5,-26],[1,-26.5],[1.5,-28],[2,-28],[2.5,-28.5],[3,-29],[3.5,-29],[4,-29.5],[5.5,-30],[7,-29],[7.5,-29.5],[-0.7,-33.5],[-1,-34],[0,-33],[0,-34],[0.5,-34],[1,-33],[1,-34],[1,-35],[0.5,-35],[3,-33.5],[2.5,-33.5],[4,-35],[5,-34.5],[5,-31.5],[4.5,-32],[7.5,-32],[-2.5,-35],[-2,-35],[-1,-36],[-1,-37],[-0.5,-38],[0,-36],[-1,-39],[0,-39.5],[2,-38],[3,-38],[3.5,-37],[4,-38],[1,-40],[4.5,-40],[4.7,-39],[5,-38],[5,-36.5],[1.5,-45.3],[2,-45.3],[12,-31],[19,-34.3],[19.5,-34.2],[-17.5,-29],[-16.5,-29],[-17.5,-30],[-16.5,-30],[-16.5,-28],[-15.5,-29.5]];
const p3Purple = [[-43,18.8],[-16,24],[36,28],[-19,2],[-42,-18],[-37,-17.5],[-31.2,-14],[-7.8,-13.8],[16.7,-13.2],[43.3,0],[41.5,0.4],[41.3,-29.3],[30.7,-30.3],[-28.5,-11],[-28,-11.7],[-28.5,-4],[-28,-4],[-28,-5],[-27.5,-3.5],[-27,-4],[-27,-5],[-26.5,-3],[-26,-4],[-26,-5],[-25,-4],[-25,-5],[-24,-3],[-24,-4],[-23.5,-2],[-23,-2.5],[-23,-3.5],[-23,-4.5],[-22,-2.5],[-22,-3.5],[-22,-4.5],[-21,-3],[-21,-4],[-21,-5],[-22,-6],[-22,-7],[-21,-7],[-20,-6],[-20,-8],[-19,-6],[-19,-7.5],[-18,-5],[-18,-6.5],[-18,-8],[-17,-5],[-17,-7],[-17,-4],[-16,-3.5],[-16,-6],[-15.5,-2],[-16,-1],[-15,-1],[-15,0],[-15,-3],[-14.5,0.5],[-14.5,-4],[-14.5,-5],[-14,1],[-14,-2],[-13.5,-3],[-13,-2],[-13,-4],[-12.5,-1.8],[-12.5,-3],[-15,-6],[-14,-6],[-12,-4],[-25,-8],[-24,-8],[-24,-9],[-23,-8],[-23,-10],[-22,-9],[-21,-10],[-20,-10],[-20,-11],[-19,-9.5],[-19,-11],[-18,-10],[-18,-12],[-27,-10.5],[-26,-10.7],[-25,-11],[-24,-10.5],[-23,-12],[-22.5,-13],[-22.5,-14],[-16,-9],[-16,-10],[-17,-10],[-17,-11],[-17,-12],[-16,-12],[-15,-9],[-15,-10],[-15,-11],[-15,-13],[-14,-8],[-14,-9],[-14,-11],[-14,-12],[-13,-9],[-13,-10],[-13,-11],[-13,-12],[-12,-8],[-12,-9],[-12,-10],[-12,-11],[-12,-12],[-11,-9],[-11,-10],[-11,-11],[-11,-12],[-10,-10],[-15,-14],[-15.5,-13.5],[-26.5,-4],[-25.5,-4.5],[-24.5,-3.5],[-23.5,-3],[-22.5,-3],[-22.5,-4],[-21.5,-3.5],[-13,-10.5],[-12.5,-10],[-12.5,-11],[-12.5,-9],[-13.5,-10],[-13.5,-11],[-11.5,-10],[-11.5,-11],[-12,-9.5],[-12,-10.5],[-14.5,-1],[-14,-1],[-14,0],[-15,-2],[-20.5,-7],[-21.5,-6],[-19.5,-7],[-17.5,-6],[-16.5,-5],[-16.5,-6.5]];
const p3Red = [[5.2,45.7],[5.5,42.7],[6.7,37],[0.4,35.5],[7,-20.1],[13,45],[13.5,46],[14,46.5],[14.5,46.5],[15,46.5],[15.5,46],[16,45.5],[16.5,45],[17,44],[17,43],[16.5,43],[16,44],[15.5,45],[15,45],[14.5,45],[14,45],[13.5,44],[14,44],[14.5,44],[15,44],[15.5,44],[13,43.5],[13.5,43],[14,43],[14.5,43],[15,43],[15.5,43],[16,43],[14,42],[14.5,42],[15,42],[15.5,42],[16,42.5],[12,45],[11.5,44.5],[12,43.5],[17.2,42],[9,41],[9.5,41],[10,40.5],[9,40],[9,39],[9.5,38.5],[10,38],[12,39],[12.5,39],[13.5,39.5],[14,40],[14.5,39],[15,39.5],[15.5,39],[14,38.5],[15,40.5],[17.2,39.3],[17,38],[17.5,37.5],[18,37.5],[16.5,37.5],[11,36.5],[11.5,36.5],[13,37],[13.5,36],[13.5,35.3],[12.5,35.5],[8,34.5],[8.5,35],[9,35],[9.5,35.5],[8,33.5],[9,34],[9.5,33.5],[8,33],[10,34],[12,34],[13.5,33],[15,34],[15.5,35],[16,34.5],[16,33.5],[16.5,34],[17,34.5],[16,33],[16.5,32.5],[15,32],[7.5,32],[8,31.5],[8.5,32],[9,31.5],[9,31],[10,31.5],[10,31],[10.5,32],[10.5,31],[11,30.5],[11,32],[11,31],[11.5,31.5],[12,31],[12,32],[12.5,31],[13,31],[13,32],[14.3,31.5],[8.5,31],[14.5,45.5],[15,45.5],[14,45.5],[13.5,45],[13.5,43.5],[14.5,43.5],[15.5,43.5],[16,43.5],[15,43.5],[14.5,42.5],[15.5,42.5],[14,42.5],[15,42.5],[16.5,44]];
const p3Mint = [[-8.9,41.2],[-1.6,39],[-26.5,34.7],[-11.5,34.2],[-29.7,32.7],[-31.5,32.3],[4.1,31.3],[6.5,28.7],[-20,30],[-19.3,30.2],[-16,27.2],[-14.3,26.7],[-11.8,26.8],[-11.5,27],[-24,24],[-24.7,14.8],[-31.5,16],[-32.5,14.5],[-21.5,10.5],[-26,7.8],[-21.5,6.2],[-16.7,3.7],[-16.8,4.4],[-21,1.7],[-20.5,0.2],[-18,0.2],[-15.5,1.7],[-14,-0.8],[-34,-27.3],[-31.8,-27.2],[4.2,23],[4.5,23.5],[5,24],[5.5,24.5],[5.5,25],[5,26],[5,25],[5.5,26],[4.8,24.5],[-21.5,26.5],[-21,24.5],[-20.5,24],[-20,25],[-19.5,25.5],[-19,24.5],[-20,23],[-19.5,23],[-19,22.5],[-19.5,22],[-18,24],[-17,24],[-21,22],[-20,24],[-14,22],[-13.5,22.5],[-13,23],[-12.5,22],[-11,23],[-11,22],[-10,21.5],[-9,21],[-8,20.5],[-7,20.5],[-6,20.5],[-14,21],[-11,21],[-9.5,20],[-9,19.5],[-5,19],[-14.5,20],[-9,18.5],[-8,18],[-6,18],[-6.5,16.5],[-5.5,17],[-7,15],[-9,17],[-9,16],[-8.5,15],[-11,18],[-12,18],[-13,17.5],[-13,16.5],[-14,18],[-15,17],[-15,16],[-16,16],[-17,16],[-18,15.5],[-19,15.5],[-18,16],[-14,16],[-13.5,15],[-13,14],[-14,14],[-14,13],[-12,15],[-11,15.5],[-11,14],[-15,15],[-16,15],[-9,13],[-9.5,12],[-8,13],[-8,12],[-7.5,13.5],[-19,13.5],[-19,12.5],[-18.5,12],[-18,11],[-17,11.5],[-17,10.5],[-16,11],[-16,10],[-15,12],[-15,13],[-14,10],[-14,9],[-13,10],[-12,10],[-12,11],[-12,9],[-13,8.5],[-11.5,8.5],[-11,8.5],[-15,9],[-15,7.5],[-16,7],[-17,7.5],[-18,8],[-18.3,7.3]];
const p3Orange = [[-22.5,40.8],[-29.5,35],[-31.5,33],[-32,32.5],[-31,33.5],[-25.3,30],[-17,27],[-26,28],[-26,27],[-25.5,26.5],[-26.3,25.5],[5,0.5],[-4.5,-8.5],[7.5,-21.5],[-29.5,-10.5],[-47,14],[-47,13],[-46,14.5],[-46,13],[-45.5,13.5],[-45,13],[-45,14.5],[-44.5,12.5],[-46.5,13],[-45.5,12.5],[-44,14],[-43,13],[-42.5,14],[-42,13],[-41.5,13.5],[-42,12.5],[-39.5,14],[-40.5,10.5],[-39,9.5],[-37,14],[-36,14],[-34,14.5],[-33,14.2],[-29.6,13.5],[-45,25],[-46,23],[-45,22],[-46,21],[-45.5,20],[-44.5,20],[-44,21],[-44,23],[-44,24],[-43,24],[-43,22],[-42,24],[-42,24.5],[-41,24],[-41,23],[-41,22],[-40,24],[-40,23],[-39,24.5],[-39,22],[-37,23.5],[-37,22.5],[-36,22],[-36,23],[-35,22],[-35,21.5],[-34,21.5],[-33,21],[-42,20],[-41,20],[-40,19],[-39,19],[-38,20],[-38,19],[-37,18],[-37,17],[-38,17],[-39,17.5],[-41,16],[-40,16],[-39,16],[-38,16],[-36,17],[-36,15.5],[-35,19],[-35,18],[-34,19],[-34,17],[-33,19],[-33,17],[-32,19],[-32,17],[-31,20],[-30,20.5],[-29,20.5],[-32,20.5],[-34,15],[-33,15],[-33,14.7],[-32,15],[-31,16],[-31,17],[-37,28],[-36.5,29],[-36,29],[-36,28],[-35.5,28.5],[-35,27.5],[-35,26.5],[-34,27],[-34,26],[-33,27],[-33,26],[-32,27],[-32,26],[-31,27],[-31,26],[-30,27],[-30,26],[-31,25],[-30,25],[-29,25],[-32,24],[-31,24],[-33,24],[-33,23],[-32,23],[-31,22.5],[-30,23],[-28,21.5],[-27,22],[-27,21],[-26,20.5],[-26,20],[-27,20],[-26,22],[-25,22.5],[-25,21.5],[-25.5,22],[-24,19],[-46,13.5],[-45.5,14],[-36,28.5],[-35.5,27.5]];

const panelData = [
  [p1Blue, p1Cyan, p1Khaki, p1Purple, p1Red, p1Mint, p1Orange],
  [p2Blue, p2Cyan, p2Khaki, p2Purple, p2Red, p2Mint, p2Orange],
  [p3Blue, p3Cyan, p3Khaki, p3Purple, p3Red, p3Mint, p3Orange],
];

const W = 2460;
const H = 855;
const plots = [
  { left: 201, right: 898, top: 18, bottom: 653 },
  { left: 986, right: 1684, top: 19, bottom: 654 },
  { left: 1763, right: 2461, top: 20, bottom: 656 },
];
const captionX = [544, 1330, 2110];
const captionY = [
  [720.4, 776.4, 833.4],
  [717.4, 775, 830],
  [719, 775.4, 831.4],
];
const legendRowY = [173, 219, 265, 311, 356, 402, 448];
const legendTextY = [165.5, 213, 257, 304, 351, 396, 443];

const capFont = '"Liberation Sans", Arial, sans-serif';
const tickFont = '"DejaVu Sans Condensed", "DejaVu Sans", sans-serif';
const fmt = (v: number) => String(v).replace("-", "\u2212");

function buildOption() {
  const grid: any[] = [];
  const xAxis: any[] = [];
  const yAxis: any[] = [];
  const series: any[] = [];
  const graphic: any[] = [];
  const frame = "#555";

  plots.forEach((p, i) => {
    grid.push({
      left: p.left,
      top: p.top,
      width: p.right - p.left,
      height: p.bottom - p.top,
      show: false,
    });
    const base = { type: "value", min: tickValues[0], max: tickValues[tickValues.length - 1], interval: 20, gridIndex: i, splitLine: { show: false } };
    const line = { show: true, onZero: false, lineStyle: { color: frame, width: 1.5 } };
    const tick = { show: true, inside: true, length: 4, lineStyle: { color: "#444", width: 1 } };
    const label = { show: true, fontFamily: tickFont, fontSize: 12.5, color: "#333", formatter: fmt, showMinLabel: true, showMaxLabel: true, hideOverlap: false };
    xAxis.push({ ...base, position: "bottom", axisLine: line, axisTick: tick, axisLabel: { ...label, margin: 5 } });
    xAxis.push({ ...base, position: "top", axisLine: line, axisTick: tick, axisLabel: { show: false } });
    yAxis.push({ ...base, position: "left", axisLine: line, axisTick: tick, axisLabel: { ...label, margin: 5 } });
    yAxis.push({ ...base, position: "right", axisLine: line, axisTick: tick, axisLabel: { show: false } });
    panelData[i].forEach((data, k) => {
      series.push({
        type: "scatter",
        name: classNames[k],
        xAxisIndex: i * 2,
        yAxisIndex: i * 2,
        data,
        symbol: "circle",
        symbolSize: 7,
        itemStyle: { color: markColors[k], opacity: 1 },
        silent: true,
        z: 2 + k,
      });
    });
    captions[i].forEach((txt, l) => {
      graphic.push({
        type: "text",
        x: captionX[i],
        y: captionY[i][l],
        style: {
          text: txt,
          fontFamily: capFont,
          fontSize: 48,
          fill: "#000",
          textAlign: "center",
          textVerticalAlign: "middle",
          rich: { b: { fontFamily: capFont, fontSize: 48, fontWeight: "bold", fill: "#000" } },
        },
      });
    });
  });

  graphic.push({
    type: "rect",
    shape: { x: 11.5, y: 135.5, width: 153, height: 336 },
    style: { fill: "#fff", stroke: "#888", lineWidth: 1.5 },
  });
  classNames.forEach((c, k) => {
    graphic.push({ type: "circle", shape: { cx: 34, cy: legendRowY[k], r: 8 }, style: { fill: legendColors[k] } });
    graphic.push({
      type: "text",
      x: 76,
      y: legendTextY[k],
      scaleY: 1.15,
      style: { text: c, fontFamily: capFont, fontSize: 44, fill: "#000", textAlign: "left", textVerticalAlign: "middle" },
    });
  });

  return { animation: false, backgroundColor: "#fff", grid, xAxis, yAxis, series, graphic };
}

export default function App() {
  const ref = useRef<HTMLDivElement>(null);
  useEffect(() => {
    document.body.style.margin = "0";
    const chart = echarts.init(ref.current!, undefined, { renderer: "svg" });
    chart.setOption(buildOption() as any);
    return () => chart.dispose();
  }, []);
  return <div ref={ref} style={{ width: W, height: H }} />;
}
